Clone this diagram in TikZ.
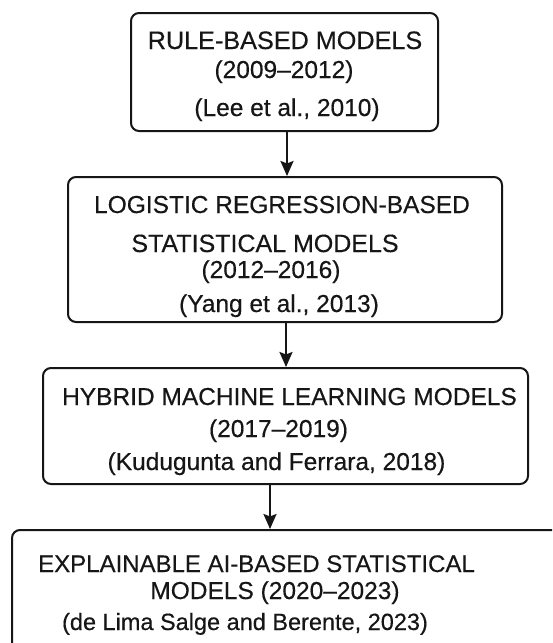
\documentclass[tikz,border=0pt]{standalone}
\usepackage{fontspec}
\setmainfont{Liberation Sans}[FakeBold=0.4]
\usetikzlibrary{arrows.meta}
\definecolor{ink}{HTML}{161616}
\tikzset{
  box/.style={draw=ink, line width=2pt, rounded corners=8pt, fill=white,
    inner sep=0pt},
  txt/.style={anchor=base, inner sep=0pt, text=ink,
    font=\fontsize{#1}{30}\selectfont},
  txt/.default=24.5,
  arr/.style={draw=ink, line width=2.2pt,
    -{Stealth[length=15pt,width=13pt,inset=2.5pt]}}
}
\begin{document}
\begin{tikzpicture}[x=1pt, y=-1pt]
  \useasboundingbox (0,0) rectangle (552,643);
  \fill[white] (0,0) rectangle (552,643);
  \clip (0,0) rectangle (552,643);

  % stage boxes
  \node[box, minimum width=307pt, minimum height=118pt] (b1) at (284.5,72) {};
  \node[box, minimum width=434pt, minimum height=145pt] (b2) at (285,249.5) {};
  \node[box, minimum width=485pt, minimum height=116pt] (b3) at (285.5,426) {};
  \node[box, minimum width=558pt, minimum height=135pt] (b4) at (291,597.5) {};

  % stage 1
  \node[txt=25.2] (l11) at (285,49) {RULE-BASED MODELS};
  \node[txt] (l12) at (284,78) {(2009–2012)};
  \node[txt] (l13) at (287,116) {(Lee et al., 2010)};

  % stage 2
  \node[txt] (l21) at (282,213) {LOGISTIC REGRESSION-BASED};
  \node[txt=25] (l22) at (265,252) {STATISTICAL MODELS};
  \node[txt] (l23) at (271,278) {(2012–2016)};
  \node[txt] (l24) at (279,312) {(Yang et al., 2013)};

  % stage 3
  \node[txt] (l31) at (289.5,405) {HYBRID MACHINE LEARNING MODELS};
  \node[txt] (l32) at (278.5,437) {(2017–2019)};
  \node[txt] (l33) at (276.5,470) {(Kudugunta and Ferrara, 2018)};

  % stage 4
  \node[txt=24] (l41) at (256.5,572) {EXPLAINABLE AI-BASED STATISTICAL};
  \node[txt] (l42) at (275,599) {MODELS (2020–2023)};
  \node[txt=23.5] (l43) at (245,630) {(de Lima Salge and Berente, 2023)};

  % transitions between stages
  \draw[arr] ([xshift=2.5pt]b1.south) -- ([xshift=2.5pt]b1.south |- b2.north);
  \draw[arr] ([xshift=1pt]b2.south) -- ([xshift=1pt]b2.south |- b3.north);
  \draw[arr] ([xshift=-15.5pt]b3.south) -- ([xshift=-15.5pt]b3.south |- b4.north);
\end{tikzpicture}
\end{document}
